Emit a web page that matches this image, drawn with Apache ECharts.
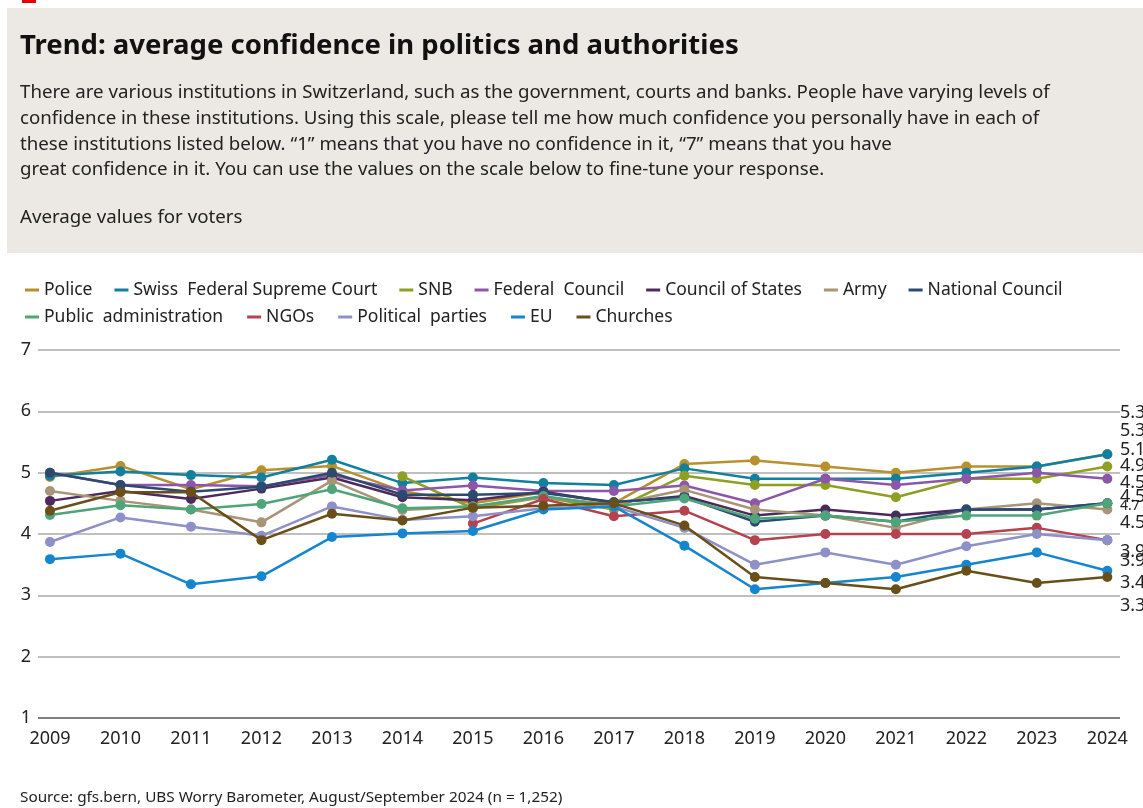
<!DOCTYPE html>
<html>
<head>
<meta charset="utf-8">
<script src="https://cdn.jsdelivr.net/npm/echarts@6/dist/echarts.min.js"></script>
<style>
html,body{margin:0;padding:0;background:#fff;}
#chart{width:1143px;height:808px;}
</style>
</head>
<body>
<div id="chart"></div>
<script>
// ---- Data ----
const years = [2009,2010,2011,2012,2013,2014,2015,2016,2017,2018,2019,2020,2021,2022,2023,2024];
const seriesNames = ['Police','Swiss  Federal Supreme Court','SNB','Federal  Council','Council of States','Army','National Council','Public  administration','NGOs','Political  parties','EU','Churches'];
const police        = [4.93,5.11,4.73,5.04,5.11,4.70,4.50,4.68,4.50,5.14,5.2,5.1,5.0,5.1,5.1,5.3];
const supremeCourt  = [4.95,5.02,4.96,4.92,5.21,4.83,4.92,4.83,4.80,5.07,4.9,4.9,4.9,5.0,5.1,5.3];
const snb           = [null,null,null,null,null,4.94,4.42,4.60,4.40,4.95,4.8,4.8,4.6,4.9,4.9,5.1];
const federalCouncil= [5.00,4.80,4.80,4.78,4.96,4.71,4.79,4.70,4.70,4.79,4.5,4.9,4.8,4.9,5.0,4.9];
const councilStates = [4.54,4.70,4.57,4.74,4.92,4.60,4.55,4.69,4.51,4.62,4.3,4.4,4.3,4.4,4.4,4.5];
const army          = [4.70,4.54,4.40,4.19,4.87,4.39,4.45,4.60,4.48,4.72,4.4,4.3,4.1,4.4,4.5,4.4];
const nationalCouncil=[5.00,4.80,4.69,4.77,5.00,4.64,4.64,4.67,4.52,4.60,4.2,4.3,4.2,4.4,4.4,4.5];
const publicAdmin   = [4.31,4.47,4.40,4.49,4.73,4.42,4.45,4.62,4.45,4.58,4.25,4.3,4.2,4.3,4.3,4.5];
const ngos          = [null,null,null,null,null,null,4.17,4.57,4.29,4.38,3.9,4.0,4.0,4.0,4.1,3.9];
const parties       = [3.87,4.27,4.12,3.97,4.45,4.23,4.29,4.42,4.45,4.10,3.5,3.7,3.5,3.8,4.0,3.9];
const eu            = [3.59,3.68,3.18,3.31,3.95,4.01,4.05,4.40,4.45,3.81,3.1,3.2,3.3,3.5,3.7,3.4];
const churches      = [4.38,4.68,4.68,3.90,4.33,4.22,4.43,4.46,4.50,4.14,3.3,3.2,3.1,3.4,3.2,3.3];
const allValues = [police,supremeCourt,snb,federalCouncil,councilStates,army,nationalCouncil,publicAdmin,ngos,parties,eu,churches];
const yTicks = [1,2,3,4,5,6,7];
const endLabelTexts = ['5.3','5.3','5.1','4.9','4.5','4.5','4.7','4.5','3.9','3.9','3.4','3.3'];

// ---- Styles ----
const colors = ['#B8902E','#11809F','#8F9F22','#8D57A9','#4C2A5C','#A89578','#2C4A70','#4EA57A','#B5434F','#8E90C8','#1585CF','#6A4F18'];
const endLabelTops = [415,433,452,468,485,499,510,525,554,563,585,608];
const FONT = '"Noto Sans", "Open Sans", sans-serif';

const chart = echarts.init(document.getElementById('chart'));

const series = seriesNames.map((n,i)=>({
  name:n, type:'line',
  data: years.map((y,j)=> allValues[i][j]==null ? [y,null] : [y, allValues[i][j]]),
  connectNulls:false,
  symbol:'circle', symbolSize:10,
  lineStyle:{width:2.5,color:colors[i]},
  itemStyle:{color:colors[i]},
  emphasis:{disabled:true},
  z: 2+i
}));

const legendText = {fontFamily:FONT,fontSize:17.5,color:'#222'};
const endLabelGraphics = endLabelTexts.map((t,i)=>({
  type:'text', left:1120, top:endLabelTops[i]-11,
  style:{text:t, fontFamily:FONT, fontSize: i===6?14:18, fill:'#222'}
}));

chart.setOption({
  backgroundColor:'#fff',
  animation:false,
  color: colors,
  graphic:[
    {type:'rect', left:22, top:0, shape:{width:14,height:3}, style:{fill:'#E60000'}, z:-1},
    {type:'rect', left:7, top:8, shape:{width:1136,height:245}, style:{fill:'#ECE9E4'}, z:-2},
    {type:'text', left:20, top:32, style:{text:'Trend: average confidence in politics and authorities', fontFamily:FONT, fontWeight:'bold', fontSize:27.5, fill:'#111'}},
    {type:'text', left:20, top:80, style:{text:'There are various institutions in Switzerland, such as the government, courts and banks. People have varying levels of\nconfidence in these institutions. Using this scale, please tell me how much confidence you personally have in each of\nthese institutions listed below. \u201c1\u201d means that you have no confidence in it, \u201c7\u201d means that you have\ngreat confidence in it. You can use the values on the scale below to fine-tune your response.', fontFamily:FONT, fontSize:18.7, lineHeight:25.7, fill:'#222'}},
    {type:'text', left:20, top:208, style:{text:'Average values for voters', fontFamily:FONT, fontSize:18.7, fill:'#222'}},
    {type:'text', left:20, top:790, style:{text:'Source: gfs.bern, UBS Worry Barometer, August/September 2024 (n = 1,252)', fontFamily:FONT, fontSize:15.3, fill:'#222'}}
  ].concat(endLabelGraphics),
  legend:[
    {left:20, top:276, data:seriesNames.slice(0,7), icon:'rect', itemWidth:14, itemHeight:3, itemGap:22, textStyle:legendText, selectedMode:false},
    {left:20, top:303, data:seriesNames.slice(7), icon:'rect', itemWidth:14, itemHeight:3, itemGap:24, textStyle:legendText, selectedMode:false}
  ],
  grid:{left:38, right:23, top:350, bottom:90, containLabel:false},
  xAxis:{
    type:'value', min:2008.83, max:2024.18,
    axisLine:{show:false}, axisTick:{show:false}, splitLine:{show:false},
    axisLabel:{customValues:years, formatter:v=>String(Math.round(v)), fontFamily:FONT, fontSize:18, color:'#222', margin:12}
  },
  yAxis:{
    type:'value', min:1, max:7, interval:1,
    axisLine:{show:false}, axisTick:{show:false},
    axisLabel:{formatter:v=> yTicks.includes(v)? String(v):'', fontFamily:FONT, fontSize:18, color:'#222', margin:7},
    splitLine:{lineStyle:{color:['#808080','#BFBFBF','#BFBFBF','#BFBFBF','#BFBFBF','#BFBFBF','#BFBFBF'], width:2}}
  },
  series: series
});
</script>
</body>
</html>
